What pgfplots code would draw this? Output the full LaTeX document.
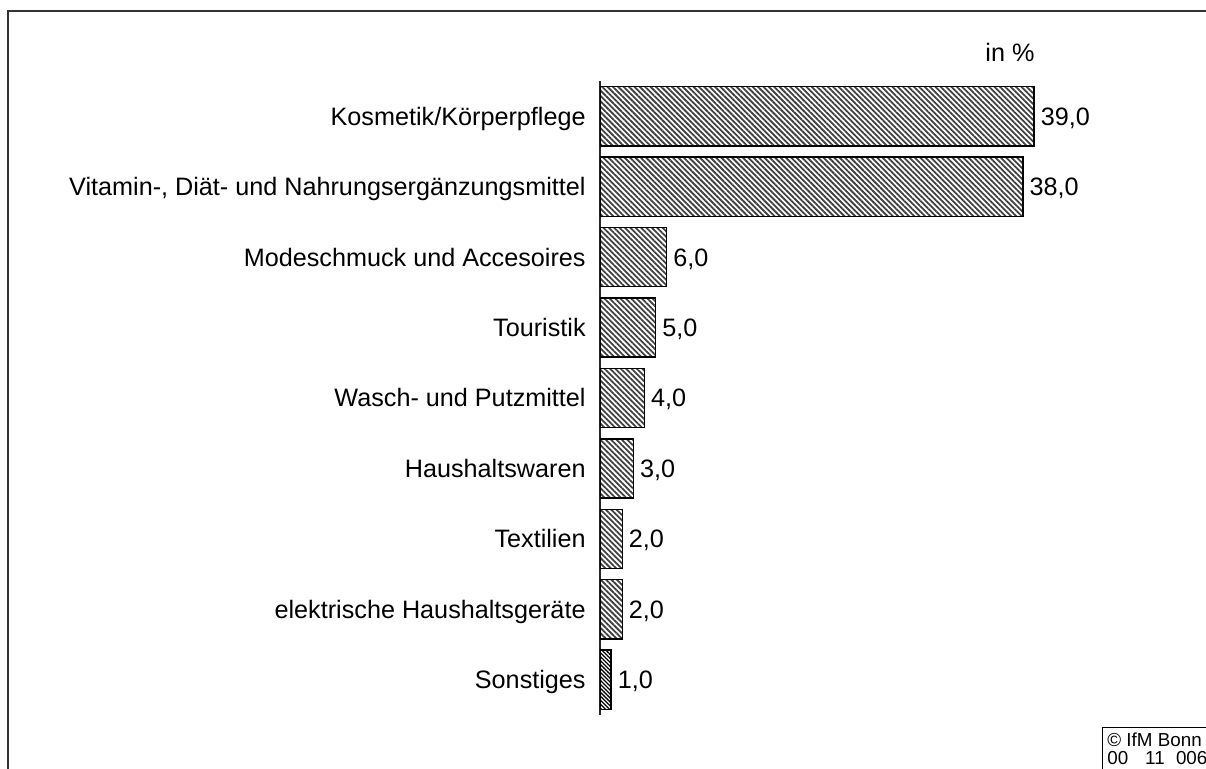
\documentclass[border=0pt]{standalone}
\usepackage{fontspec}
\setmainfont{Liberation Sans}
\usepackage{pgfplots}
\pgfplotsset{compat=1.18}
\usetikzlibrary{patterns.meta}

\begin{document}
\begin{tikzpicture}
\useasboundingbox (0,0) rectangle (603pt,-384.5pt);
\clip (0,0) rectangle (603pt,-384.5pt);
% outer frame (right and bottom edges fall outside the page)
\draw[line width=1pt, black!80] (4pt,-420pt) -- (4pt,-5.5pt) -- (640pt,-5.5pt);

\begin{axis}[
  at={(300pt,-357.5pt)}, anchor=south west,
  scale only axis,
  width=278.25pt, height=317pt,
  xbar, bar shift=0pt, bar width=0.84,
  xmin=0, xmax=50,
  ymin=0.5, ymax=9.5,
  hide x axis,
  axis y line*=left,
  y axis line style={-, line width=0.8pt, black!85},
  ytick={1,...,9},
  yticklabels={Sonstiges, elektrische Haushaltsgeräte, Textilien, Haushaltswaren,
    Wasch- und Putzmittel, Touristik, Modeschmuck und Accesoires,
    {Vitamin-, Diät- und Nahrungsergänzungsmittel}, Kosmetik/Körperpflege},
  major tick length=0pt,
  yticklabel style={font=\fontsize{12.6}{15}\selectfont, inner sep=0pt,
    text height=9pt, text depth=0pt, anchor=east, xshift=-7pt},
  nodes near coords,
  nodes near coords style={font=\fontsize{12.6}{15}\selectfont, anchor=west,
    inner sep=0pt, text height=9pt, text depth=0pt, xshift=3pt},
  /pgf/number format/.cd, fixed, fixed zerofill, precision=1, use comma, assume math mode=true,
]
\addplot[draw=black, line width=0.7pt,
  pattern={Lines[angle=-45, distance=1.9pt, line width=0.9pt]}, pattern color=black!75]
  coordinates {(2,2) (2,3) (3,4) (4,5) (5,6) (6,7) (38,8) (39,9)};
\addplot[draw=black, line width=0.7pt,
  pattern={Lines[angle=-45, distance=1.4pt, line width=0.65pt]}, pattern color=black]
  coordinates {(1,1)};
\end{axis}

\node[font=\fontsize{12.6}{15}\selectfont] at (505pt,-26pt) {in \%};
\draw[line width=0.5pt] (551pt,-420pt) -- (551pt,-364pt) -- (640pt,-364pt);
\node[font=\fontsize{9.4}{9}\selectfont, anchor=north west, inner sep=0pt, align=left]
  at (553.5pt,-366pt) {© IfM Bonn\\00\hspace{0.9em}11\hspace{0.6em}006};
\end{tikzpicture}
\end{document}
